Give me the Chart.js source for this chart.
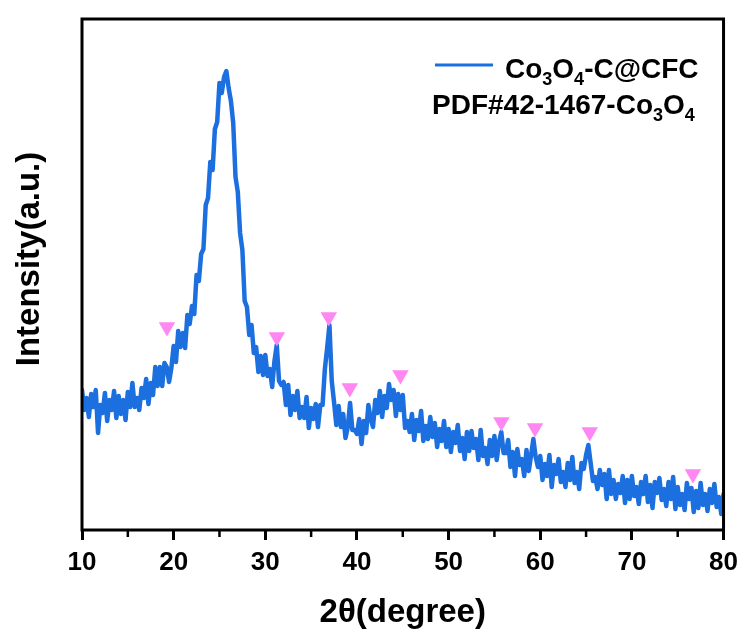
<!DOCTYPE html>
<html>
<head>
<meta charset="utf-8">
<title>XRD - Co3O4-C@CFC</title>
<script src="https://cdn.jsdelivr.net/npm/chart.js@4.4.1/dist/chart.umd.min.js"></script>
<style>
    html, body { margin: 0; padding: 0; background: #ffffff; }
    #wrap { width: 745px; height: 636px; }
</style>
</head>
<body>
<div id="wrap"><canvas id="xrdChart" width="745" height="636"></canvas></div>
<script>
// 2θ positions (degree)
const twoTheta = [
    10, 10.25, 10.5, 10.75, 11, 11.25, 11.5, 11.75, 12, 12.25,
    12.5, 12.75, 13, 13.25, 13.5, 13.75, 14, 14.25, 14.5, 14.75,
    15, 15.25, 15.5, 15.75, 16, 16.25, 16.5, 16.75, 17, 17.25,
    17.5, 17.75, 18, 18.25, 18.5, 18.75, 19, 19.25, 19.5, 19.75,
    20, 20.25, 20.5, 20.75, 21, 21.25, 21.5, 21.75, 22, 22.25,
    22.5, 22.75, 23, 23.25, 23.5, 23.75, 24, 24.25, 24.5, 24.75,
    25, 25.25, 25.5, 25.75, 26, 26.25, 26.5, 26.75, 27, 27.25,
    27.5, 27.75, 28, 28.25, 28.5, 28.75, 29, 29.25, 29.5, 29.75,
    30, 30.25, 30.5, 30.75, 31, 31.25, 31.5, 31.75, 32, 32.25,
    32.5, 32.75, 33, 33.25, 33.5, 33.75, 34, 34.25, 34.5, 34.75,
    35, 35.25, 35.5, 35.75, 36, 36.25, 36.5, 36.75, 37, 37.25,
    37.5, 37.75, 38, 38.25, 38.5, 38.75, 39, 39.25, 39.5, 39.75,
    40, 40.25, 40.5, 40.75, 41, 41.25, 41.5, 41.75, 42, 42.25,
    42.5, 42.75, 43, 43.25, 43.5, 43.75, 44, 44.25, 44.5, 44.75,
    45, 45.25, 45.5, 45.75, 46, 46.25, 46.5, 46.75, 47, 47.25,
    47.5, 47.75, 48, 48.25, 48.5, 48.75, 49, 49.25, 49.5, 49.75,
    50, 50.25, 50.5, 50.75, 51, 51.25, 51.5, 51.75, 52, 52.25,
    52.5, 52.75, 53, 53.25, 53.5, 53.75, 54, 54.25, 54.5, 54.75,
    55, 55.25, 55.5, 55.75, 56, 56.25, 56.5, 56.75, 57, 57.25,
    57.5, 57.75, 58, 58.25, 58.5, 58.75, 59, 59.25, 59.5, 59.75,
    60, 60.25, 60.5, 60.75, 61, 61.25, 61.5, 61.75, 62, 62.25,
    62.5, 62.75, 63, 63.25, 63.5, 63.75, 64, 64.25, 64.5, 64.75,
    65, 65.25, 65.5, 65.75, 66, 66.25, 66.5, 66.75, 67, 67.25,
    67.5, 67.75, 68, 68.25, 68.5, 68.75, 69, 69.25, 69.5, 69.75,
    70, 70.25, 70.5, 70.75, 71, 71.25, 71.5, 71.75, 72, 72.25,
    72.5, 72.75, 73, 73.25, 73.5, 73.75, 74, 74.25, 74.5, 74.75,
    75, 75.25, 75.5, 75.75, 76, 76.25, 76.5, 76.75, 77, 77.25,
    77.5, 77.75, 78, 78.25, 78.5, 78.75, 79, 79.25, 79.5, 79.75, 80
];

const intensity = [
    139, 119, 131, 112, 135, 122, 139, 96, 124, 116,
    136, 108, 129, 119, 138, 111, 133, 115, 129, 109,
    137, 122, 146, 122, 131, 119, 141, 131, 150, 125,
    146, 134, 162, 143, 162, 143, 166, 162, 147, 161,
    183, 167, 198, 182, 196, 181, 214, 205, 223, 215,
    254, 248, 275, 280, 324, 331, 367, 359, 400, 407,
    446, 436, 452, 458, 441, 428, 406, 352, 337, 296,
    279, 228, 222, 194, 204, 176, 182, 157, 173, 154,
    174, 153, 160, 142, 168, 184, 148, 144, 147, 124,
    144, 114, 133, 119, 138, 111, 122, 111, 132, 101,
    121, 110, 125, 102, 124, 124, 160, 181, 204, 148,
    127, 104, 123, 102, 115, 91, 102, 126, 99, 99,
    95, 110, 85, 108, 96, 124, 110, 102, 129, 116,
    138, 112, 133, 121, 145, 129, 139, 113, 135, 119,
    134, 101, 108, 97, 115, 89, 109, 98, 118, 88,
    103, 90, 112, 92, 106, 82, 100, 88, 108, 82,
    100, 77, 97, 86, 104, 78, 91, 70, 97, 78,
    98, 81, 90, 69, 99, 73, 81, 65, 89, 73,
    93, 69, 87, 97, 76, 76, 89, 62, 77, 53,
    80, 64, 70, 53, 79, 58, 74, 90, 72, 62,
    73, 49, 65, 53, 74, 42, 64, 55, 70, 47,
    57, 42, 66, 49, 72, 46, 57, 40, 66, 60,
    74, 84, 66, 48, 52, 40, 59, 44, 55, 30,
    59, 35, 49, 30, 45, 36, 53, 26, 49, 30,
    53, 33, 42, 25, 47, 35, 53, 27, 44, 21,
    47, 36, 51, 29, 40, 23, 47, 30, 52, 20,
    42, 24, 35, 19, 46, 30, 41, 17, 38, 21,
    46, 24, 35, 18, 40, 26, 45, 22, 32, 15, 35
];

// PDF#42-1467 (Co3O4) reflections, marked with triangles
const refAngles = [19.27, 31.26, 36.93, 39.22, 44.75, 55.76, 59.43, 65.4, 76.66];
const refHeights = [202, 192, 212, 141, 154, 107, 101, 97, 55];

// Axis ticks
const xMinorTicks = [15, 25, 35, 45, 55, 65, 75];

// Legend / axis texts ([text, isSubscript])
const seriesLabel = [['Co', false], ['3', true], ['O', false], ['4', true], ['-C@CFC', false]];
const refLabel = [['PDF#42-1467-Co', false], ['3', true], ['O', false], ['4', true]];
const xTitle = '2θ(degree)';
const yTitle = 'Intensity(a.u.)';

const LINE_COLOR = '#1c6fde';
const MARK_COLOR = '#ff87f2';
const FONT = '"Liberation Sans", Arial, sans-serif';

// Draw text with subscripts, left aligned at x
function drawRichText(ctx, parts, x, y, size) {
    let cx = x;
    parts.forEach(([text, sub]) => {
        ctx.font = `bold ${sub ? Math.round(size * 0.65) : size}px ${FONT}`;
        ctx.fillText(text, cx, sub ? y + 7 : y);
        cx += ctx.measureText(text).width;
    });
}

// Frame, minor ticks, y title and legend
const decorPlugin = {
    id: 'decor',
    afterDraw(chart) {
        const { ctx, chartArea: a, scales: { x } } = chart;
        ctx.save();
        ctx.strokeStyle = '#000';
        ctx.lineWidth = 3;
        ctx.strokeRect(a.left, a.top, a.right - a.left, a.bottom - a.top);

        // minor ticks
        ctx.lineWidth = 2.5;
        xMinorTicks.forEach(v => {
            const px = x.getPixelForValue(v);
            ctx.beginPath();
            ctx.moveTo(px, a.bottom);
            ctx.lineTo(px, a.bottom + 7);
            ctx.stroke();
        });

        // y axis title
        ctx.fillStyle = '#000';
        ctx.translate(39, 259);
        ctx.rotate(-Math.PI / 2);
        ctx.textAlign = 'center';
        ctx.textBaseline = 'alphabetic';
        ctx.font = `bold 33px ${FONT}`;
        ctx.fillText(yTitle, 0, 0);
        ctx.setTransform(1, 0, 0, 1, 0, 0);

        // legend
        ctx.strokeStyle = LINE_COLOR;
        ctx.lineWidth = 3;
        ctx.beginPath();
        ctx.moveTo(435, 65);
        ctx.lineTo(493, 65);
        ctx.stroke();
        ctx.textAlign = 'left';
        ctx.fillStyle = '#000';
        drawRichText(ctx, seriesLabel, 505, 78, 28);
        drawRichText(ctx, refLabel, 432, 114, 28);
        ctx.restore();
    }
};

const ctx = document.getElementById('xrdChart').getContext('2d');
const xrdChart = new Chart(ctx, {
    type: 'line',
    data: {
        datasets: [
            {
                label: 'PDF#42-1467-Co3O4',
                data: refAngles.map((a, i) => ({ x: a, y: refHeights[i] })),
                showLine: false,
                pointStyle: 'triangle',
                rotation: 180,
                pointRadius: 9.5,
                pointBackgroundColor: MARK_COLOR,
                pointBorderWidth: 0,
                order: 0
            },
            {
                label: 'Co3O4-C@CFC',
                data: twoTheta.map((a, i) => ({ x: a, y: intensity[i] })),
                borderColor: LINE_COLOR,
                borderWidth: 4.5,
                borderJoinStyle: 'round',
                borderCapStyle: 'round',
                pointRadius: 0,
                tension: 0,
                order: 1
            }
        ]
    },
    options: {
        responsive: false,
        devicePixelRatio: 1,
        animation: false,
        events: [],
        layout: { padding: { top: 19, right: 21, left: 0, bottom: 0 } },
        plugins: {
            legend: { display: false },
            tooltip: { enabled: false }
        },
        scales: {
            x: {
                type: 'linear',
                min: 10,
                max: 80,
                afterFit: (scale) => { scale.height = 106; },
                ticks: {
                    stepSize: 10,
                    padding: 7,
                    color: '#000',
                    font: { family: FONT, size: 26, weight: 'bold' },
                    maxRotation: 0
                },
                grid: {
                    display: true,
                    drawOnChartArea: false,
                    drawTicks: true,
                    tickLength: 10,
                    tickWidth: 3,
                    tickColor: '#000'
                },
                border: { display: false },
                title: {
                    display: true,
                    text: xTitle,
                    color: '#000',
                    font: { family: FONT, size: 33, weight: 'bold' },
                    padding: { top: 0, bottom: 3 }
                }
            },
            y: {
                type: 'linear',
                min: -1,
                max: 510,
                afterFit: (scale) => { scale.width = 82; },
                ticks: { display: false },
                grid: { display: false },
                border: { display: false }
            }
        }
    },
    plugins: [decorPlugin]
});
</script>
</body>
</html>
